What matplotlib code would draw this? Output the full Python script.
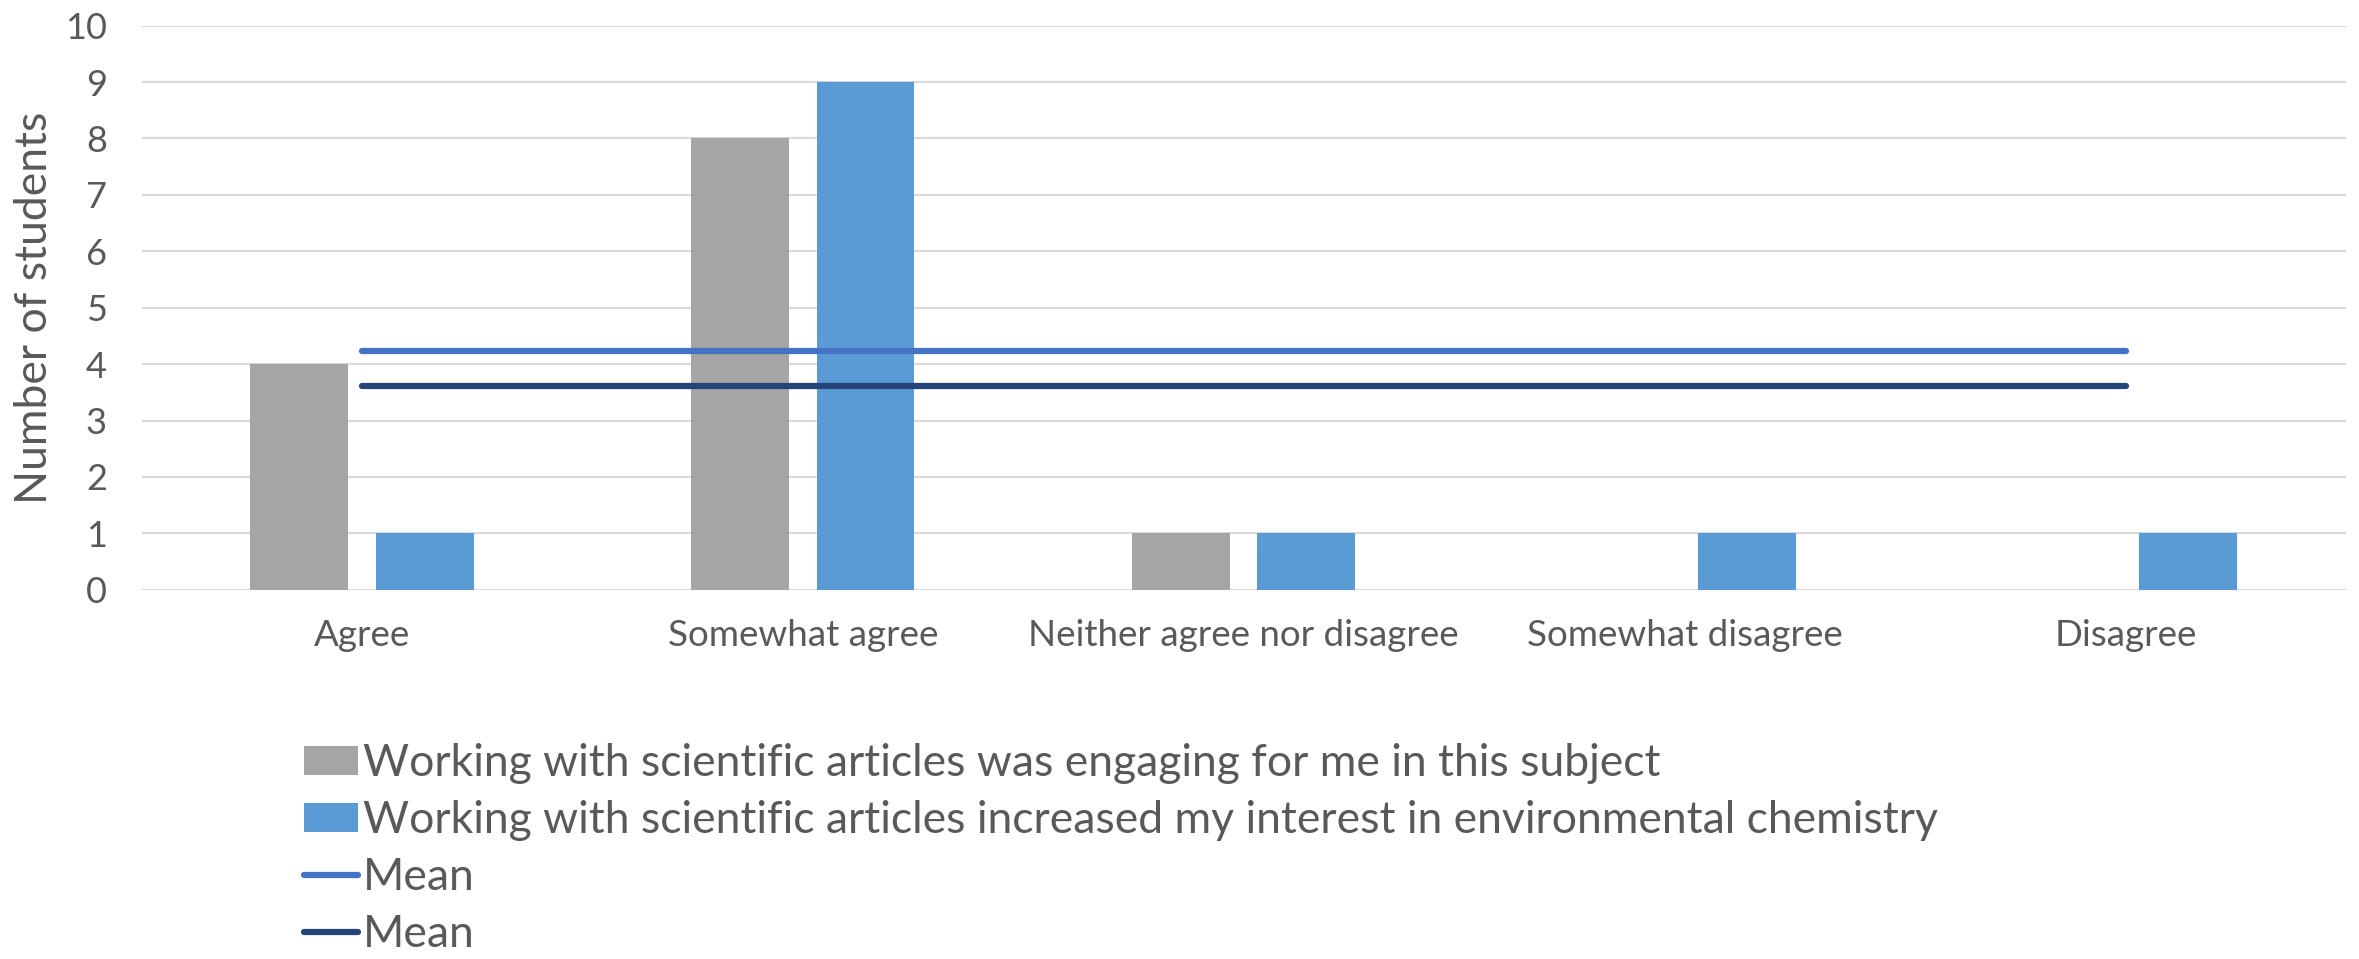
import matplotlib
matplotlib.use("Agg")
import matplotlib.pyplot as plt
import numpy as np

plt.rcParams['font.family'] = ['Lato', 'DejaVu Sans']

# Data
categories = ['Agree', 'Somewhat agree', 'Neither agree nor disagree',
              'Somewhat disagree', 'Disagree']
engaging = [4, 8, 1, 0, 0]
interest = [1, 9, 1, 1, 1]
mean_engaging = 4.23
mean_interest = 3.62
series_labels = [
    'Working with scientific articles was engaging for me in this subject',
    'Working with scientific articles increased my interest in environmental chemistry',
    'Mean',
    'Mean',
]

TEXT = '#595959'
GRAY = '#A5A5A5'
BLUE = '#5B9BD5'
MEAN1 = '#4472C4'
MEAN2 = '#264478'

fig = plt.figure(figsize=(23.59, 9.59), dpi=100)
ax = fig.add_axes([0.06, 0.385, 0.9345, 0.5883])

x = np.arange(len(categories))
w = 0.222
b1 = ax.bar(x - 0.142, engaging, w, color=GRAY, zorder=2)
b2 = ax.bar(x + 0.142, interest, w, color=BLUE, zorder=2)
l1, = ax.plot([x[0], x[-1]], [mean_engaging, mean_engaging], color=MEAN1,
              lw=4.5, solid_capstyle='round', zorder=3)
l2, = ax.plot([x[0], x[-1]], [mean_interest, mean_interest], color=MEAN2,
              lw=4.5, solid_capstyle='round', zorder=3)

ax.set_xlim(-0.5, len(categories) - 0.5)
ax.set_ylim(0, 10)
ax.set_yticks(range(0, 11))
ax.set_xticks(x)
ax.set_xticklabels(categories)
ax.tick_params(axis='y', length=0, labelsize=26, colors=TEXT, pad=25)
ax.tick_params(axis='x', length=0, labelsize=26.5, colors=TEXT, pad=21)
ax.yaxis.grid(True, color='#D9D9D9', lw=1.5, zorder=0)
ax.set_axisbelow(True)
for s in ax.spines.values():
    s.set_visible(False)
ax.set_ylabel('Number of students', fontsize=32, color=TEXT, labelpad=7)

leg = fig.legend([b1, b2, l1, l2], series_labels, loc='upper left',
                 bbox_to_anchor=(0.129, 0.225), frameon=False, fontsize=32,
                 handlelength=1.2, handleheight=0.6, handletextpad=0.12,
                 labelspacing=0.36, borderaxespad=0, borderpad=0)
for t in leg.get_texts():
    t.set_color(TEXT)

fig.savefig('out.png', dpi=100)
